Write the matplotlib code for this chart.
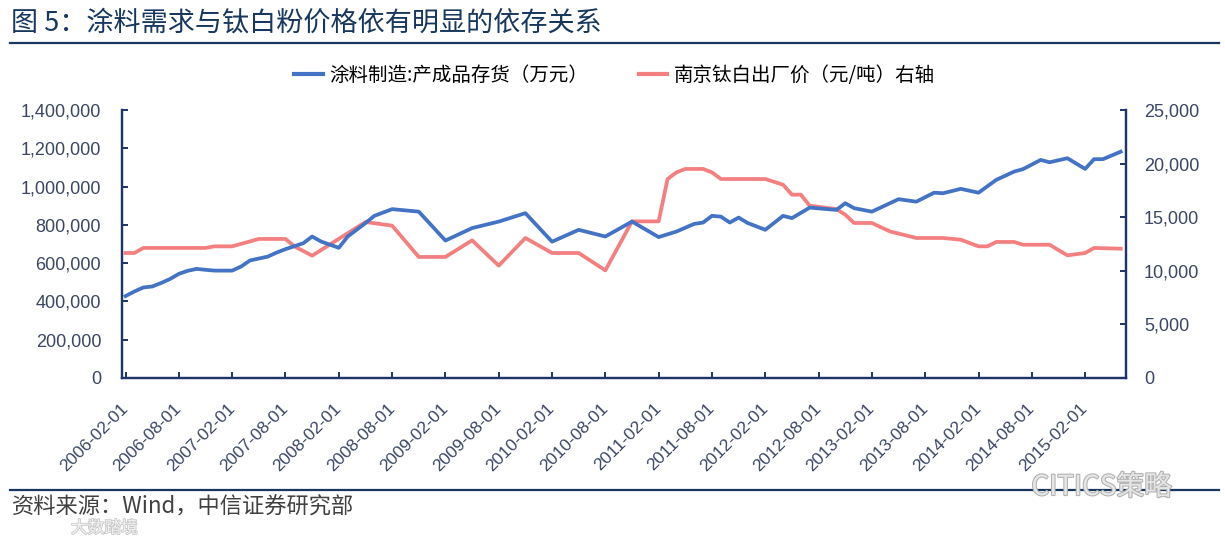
import matplotlib
matplotlib.use("Agg")
import matplotlib.pyplot as plt
from matplotlib.lines import Line2D
import matplotlib.patheffects as pe
from matplotlib.ticker import FuncFormatter, FixedLocator

CJK = ["Noto Sans CJK SC", "DejaVu Sans"]
NUM = ["Liberation Sans", "DejaVu Sans"]

# 涂料制造:产成品存货（万元）, left axis
inv_dates = [
    "2006-02", "2006-03", "2006-04", "2006-05", "2006-06", "2006-07", "2006-08",
    "2006-09", "2006-10", "2006-11", "2006-12", "2007-02", "2007-03", "2007-04",
    "2007-06", "2007-07", "2007-08", "2007-10", "2007-11", "2007-12", "2008-02",
    "2008-03", "2008-05", "2008-06", "2008-08", "2008-11", "2009-02", "2009-05",
    "2009-08", "2009-11", "2010-02", "2010-05", "2010-08", "2010-11", "2011-02",
    "2011-04", "2011-06", "2011-07", "2011-08", "2011-09", "2011-10", "2011-11",
    "2011-12", "2012-02", "2012-04", "2012-05", "2012-07", "2012-10", "2012-11",
    "2012-12", "2013-02", "2013-05", "2013-07", "2013-09", "2013-10", "2013-12",
    "2014-02", "2014-04", "2014-06", "2014-07", "2014-09", "2014-10", "2014-12",
    "2015-02", "2015-03", "2015-04", "2015-06",
]
inv_values = [
    428000, 452000, 473000, 478000, 496000, 517000, 544000,
    560000, 570000, 565000, 561000, 561000, 582000, 614000,
    634000, 655000, 673000, 704000, 739000, 713000, 680000,
    739000, 809000, 847000, 882000, 869000, 718000, 783000,
    817000, 861000, 712000, 774000, 739000, 817000, 736000,
    765000, 805000, 812000, 847000, 843000, 812000, 838000,
    810000, 774000, 847000, 835000, 890000, 878000, 913000,
    887000, 869000, 934000, 921000, 968000, 965000, 988000,
    968000, 1035000, 1078000, 1091000, 1139000, 1127000, 1148000,
    1092000, 1143000, 1143000, 1182000,
]

# 南京钛白出厂价（元/吨）, right axis
price_dates = [
    "2006-02", "2006-03", "2006-04", "2006-11", "2006-12", "2007-02", "2007-05",
    "2007-08", "2007-09", "2007-11", "2008-05", "2008-08", "2008-11", "2009-02",
    "2009-05", "2009-08", "2009-11", "2010-02", "2010-05", "2010-08", "2010-11",
    "2011-02", "2011-03", "2011-04", "2011-05", "2011-07", "2011-08", "2011-09",
    "2012-02", "2012-04", "2012-05", "2012-06", "2012-07", "2012-10", "2012-11",
    "2012-12", "2013-02", "2013-04", "2013-07", "2013-10", "2013-12", "2014-02",
    "2014-03", "2014-04", "2014-06", "2014-07", "2014-10", "2014-12", "2015-02",
    "2015-03", "2015-06",
]
price_values = [
    11660, 11660, 12130, 12130, 12280, 12280, 12970,
    12970, 12280, 11410, 14550, 14210, 11290, 11290,
    12840, 10480, 13060, 11660, 11660, 10040, 14610,
    14610, 18560, 19180, 19500, 19500, 19180, 18560,
    18560, 18030, 17100, 17100, 16070, 15760, 15230,
    14460, 14460, 13680, 13060, 13060, 12900, 12280,
    12280, 12690, 12690, 12430, 12430, 11440, 11660,
    12130, 12060,
]

tick_labels = [
    "2006-02-01", "2006-08-01", "2007-02-01", "2007-08-01", "2008-02-01",
    "2008-08-01", "2009-02-01", "2009-08-01", "2010-02-01", "2010-08-01",
    "2011-02-01", "2011-08-01", "2012-02-01", "2012-08-01", "2013-02-01",
    "2013-08-01", "2014-02-01", "2014-08-01", "2015-02-01",
]

title = "图 5：涂料需求与钛白粉价格依有明显的依存关系"
inv_label = "涂料制造:产成品存货（万元）"
price_label = "南京钛白出厂价（元/吨）右轴"
source = "资料来源：Wind，中信证券研究部"


def month_index(s):
    y, m = s[:7].split("-")
    return (int(y) - 2006) * 12 + int(m) - 2


NAVY = "#1F3468"
TICK_C = "#3A4662"
BLUE = "#4472C4"
RED = "#F47F80"

fig = plt.figure(figsize=(12.25, 5.37), dpi=100)
ax = fig.add_axes([0.0996, 0.2961, 0.8196, 0.4991])
ax2 = ax.twinx()

ax.plot([month_index(d) for d in inv_dates], inv_values, color=BLUE,
        linewidth=2.7, solid_joinstyle="round", zorder=3)
ax2.plot([month_index(d) for d in price_dates], price_values, color=RED,
         linewidth=2.7, solid_joinstyle="round", zorder=2)
ax.set_zorder(ax2.get_zorder() + 1)
ax.patch.set_visible(False)

ax.set_xlim(-0.4, 112.6)
ax.set_ylim(0, 1400000)
ax2.set_ylim(0, 25000)
ax.set_yticks(range(0, 1400001, 200000))
ax2.set_yticks(range(0, 25001, 5000))
ax.xaxis.set_major_locator(FixedLocator([month_index(t) for t in tick_labels]))
ax.set_xticklabels(tick_labels)

fmt = FuncFormatter(lambda v, p: f"{int(v):,}")
ax.yaxis.set_major_formatter(fmt)
ax2.yaxis.set_major_formatter(fmt)

for a in (ax, ax2):
    a.spines["top"].set_visible(False)
    for s in ("left", "right", "bottom"):
        a.spines[s].set_color(NAVY)
        a.spines[s].set_linewidth(1.6)

ax.tick_params(axis="y", direction="in", length=4, width=1.4, color=NAVY,
               pad=15, labelsize=13, labelcolor=TICK_C)
ax2.tick_params(axis="y", direction="in", length=4, width=1.4, color=NAVY,
                pad=13, labelsize=13, labelcolor=TICK_C)
ax.tick_params(axis="x", direction="in", length=4, width=1.4, color=NAVY,
               pad=20, labelsize=12.5, labelcolor=TICK_C)
for lab in ax.get_xticklabels() + ax.get_yticklabels() + ax2.get_yticklabels():
    lab.set_fontfamily(NUM)
for lab in ax.get_xticklabels():
    lab.set_rotation(45)
    lab.set_ha("right")
    lab.set_va("center")
    lab.set_rotation_mode("anchor")

handles = [Line2D([], [], color=BLUE, linewidth=3),
           Line2D([], [], color=RED, linewidth=3)]
fig.legend(handles, [inv_label, price_label], loc="center",
           bbox_to_anchor=(0.502, 0.860), ncol=2, frameon=False,
           handlelength=1.45, handletextpad=0.36, columnspacing=2.6,
           prop={"family": CJK, "size": 14})

fig.text(0.009, 0.958, title, fontsize=19.5, color="#17375E",
         family=CJK, va="center", ha="left")
fig.add_artist(Line2D([0.008, 0.995], [0.920, 0.920], color="#17375E",
                      linewidth=1.6, transform=fig.transFigure))
fig.add_artist(Line2D([0.008, 0.995], [0.088, 0.088], color="#17375E",
                      linewidth=1.6, transform=fig.transFigure))
fig.text(0.010, 0.056, source, fontsize=16, color="#404040",
         family=CJK, va="center", ha="left")

# watermarks
fig.text(0.842, 0.093, "CITICS策略", fontsize=20, color="#e6e6e6",
         family=CJK, va="center", ha="left",
         path_effects=[pe.withStroke(linewidth=1.5, foreground="#b0b0b0")])
fig.text(0.058, 0.016, "大数踏境", fontsize=12, color="#f2f2f2",
         family=CJK, va="center", ha="left",
         path_effects=[pe.withStroke(linewidth=1.2, foreground="#c8c8c8")])

fig.savefig("out.png", dpi=100)
